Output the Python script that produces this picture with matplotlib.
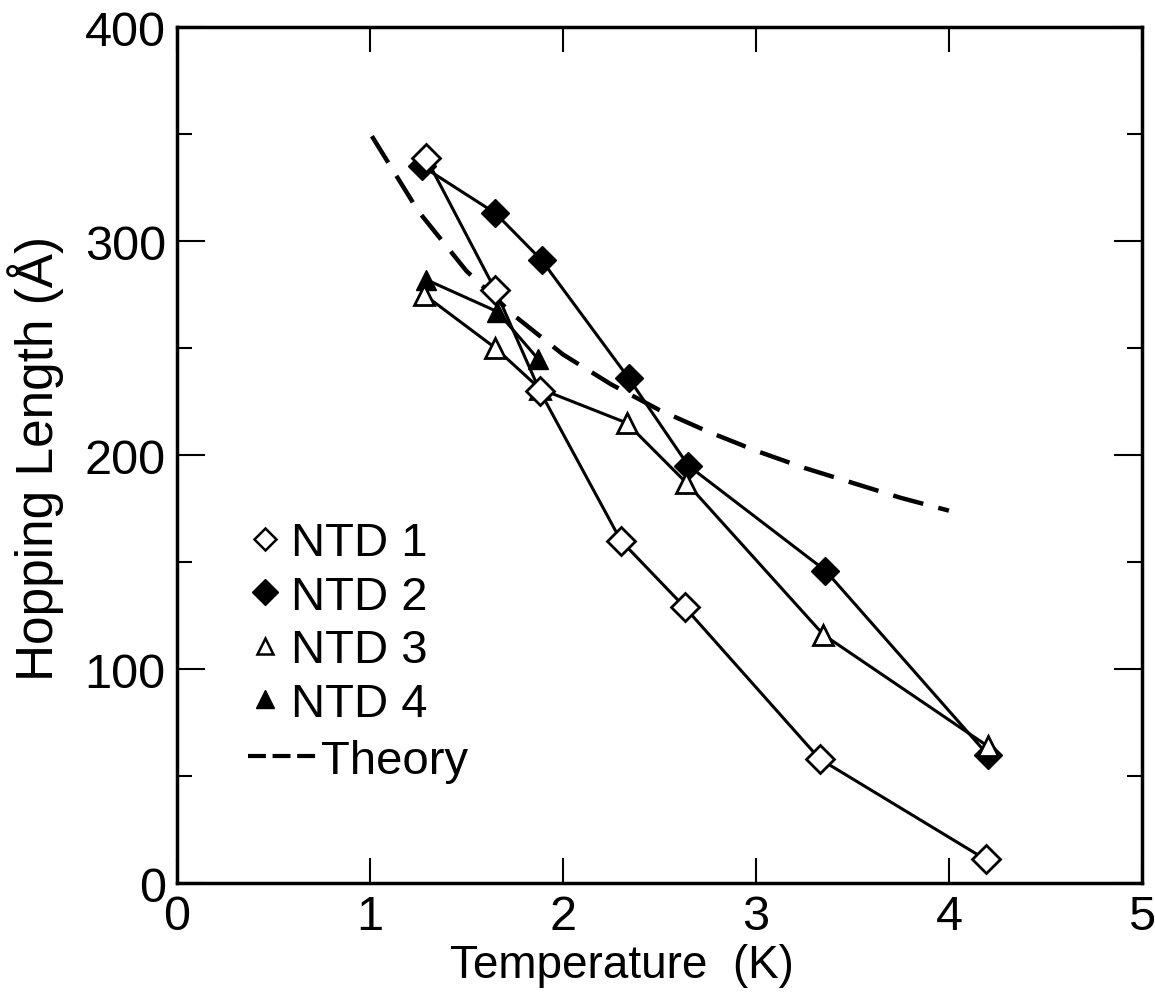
import matplotlib
matplotlib.use("Agg")
import matplotlib.pyplot as plt
from matplotlib.lines import Line2D
from matplotlib.ticker import MultipleLocator

plt.rcParams['font.family'] = ['Liberation Sans', 'DejaVu Sans']

# Data
t1 = [1.29, 1.65, 1.88, 2.30, 2.63, 3.33, 4.19]
h1 = [339, 277, 230, 160, 129, 58, 11]

t2 = [1.27, 1.65, 1.89, 2.34, 2.65, 3.36, 4.20]
h2 = [335, 313, 291, 236, 195, 146, 60]

t3 = [1.28, 1.65, 1.88, 2.33, 2.64, 3.35, 4.20]
h3 = [275, 250, 231, 215, 187, 116, 64]

t4 = [1.29, 1.66, 1.87]
h4 = [282, 267, 245]

t_th = [1.01, 1.25, 1.5, 1.75, 2.0, 2.25, 2.5, 2.75, 3.0, 3.25, 3.5, 3.75, 4.0]
h_th = [349, 314, 286, 265, 247, 233, 221, 211, 202, 194, 187, 180, 174]

labels = ["NTD 1", "NTD 2", "NTD 3", "NTD 4", "Theory"]
xticks = [0, 1, 2, 3, 4, 5]
yticks = [0, 100, 200, 300, 400]

fig = plt.figure(figsize=(11.55, 10.04), dpi=100)
ax = fig.add_axes([0.1532, 0.1195, 0.8355, 0.8526])

lw = 2.2
ax.plot(t_th, h_th, color='black', lw=3.2, dashes=(7, 3.5), zorder=2)
ax.plot(t2, h2, color='black', lw=lw, marker='D', ms=14, mfc='black', mec='black', zorder=3)
ax.plot(t4, h4, color='black', lw=lw, marker='^', ms=15, mfc='black', mec='black', zorder=4)
ax.plot(t3, h3, color='black', lw=lw, marker='^', ms=15, mfc='white', mec='black', mew=2, zorder=5)
ax.plot(t1, h1, color='black', lw=lw, marker='D', ms=14, mfc='white', mec='black', mew=2, zorder=6)

ax.set_xlim(0, 5)
ax.set_ylim(0, 400)
ax.set_xticks(xticks)
ax.set_yticks(yticks)
ax.yaxis.set_minor_locator(MultipleLocator(50))
ax.tick_params(which='major', direction='in', length=20, width=1.5, top=True, right=True,
               labelsize=35, pad=8)
ax.tick_params(which='minor', direction='in', length=11, width=1.5, right=True, left=True)
ax.tick_params(axis='x', which='major', length=18)
for s in ax.spines.values():
    s.set_linewidth(2.5)

ax.set_xlabel("Temperature  (K)", fontsize=33)
ax.xaxis.set_label_coords(0.461, -0.07)
ax.set_ylabel("Hopping Length (Å)", fontsize=37)
ax.yaxis.set_label_coords(-0.117, 0.497)

marker_handles = [
    Line2D([], [], ls='none', marker='D', ms=11, mfc='white', mec='black', mew=1.8),
    Line2D([], [], ls='none', marker='D', ms=13, mfc='black', mec='black'),
    Line2D([], [], ls='none', marker='^', ms=11, mfc='white', mec='black', mew=1.8),
    Line2D([], [], ls='none', marker='^', ms=13, mfc='black', mec='black'),
]
theory_handle = [Line2D([], [], color='black', lw=3, dashes=(4.3, 1.6))]

leg1 = ax.legend(marker_handles, labels[:4], loc='upper left', bbox_to_anchor=(0.047, 0.45),
                 frameon=False, fontsize=34, handlelength=0.8, handletextpad=0.15,
                 labelspacing=0.2, borderpad=0)
ax.add_artist(leg1)
leg2 = ax.legend(theory_handle, labels[4:], loc='upper left', bbox_to_anchor=(0.049, 0.196),
                 frameon=False, fontsize=34, handlelength=1.5, handletextpad=0.05,
                 borderpad=0)

fig.savefig("out.png", dpi=100)
